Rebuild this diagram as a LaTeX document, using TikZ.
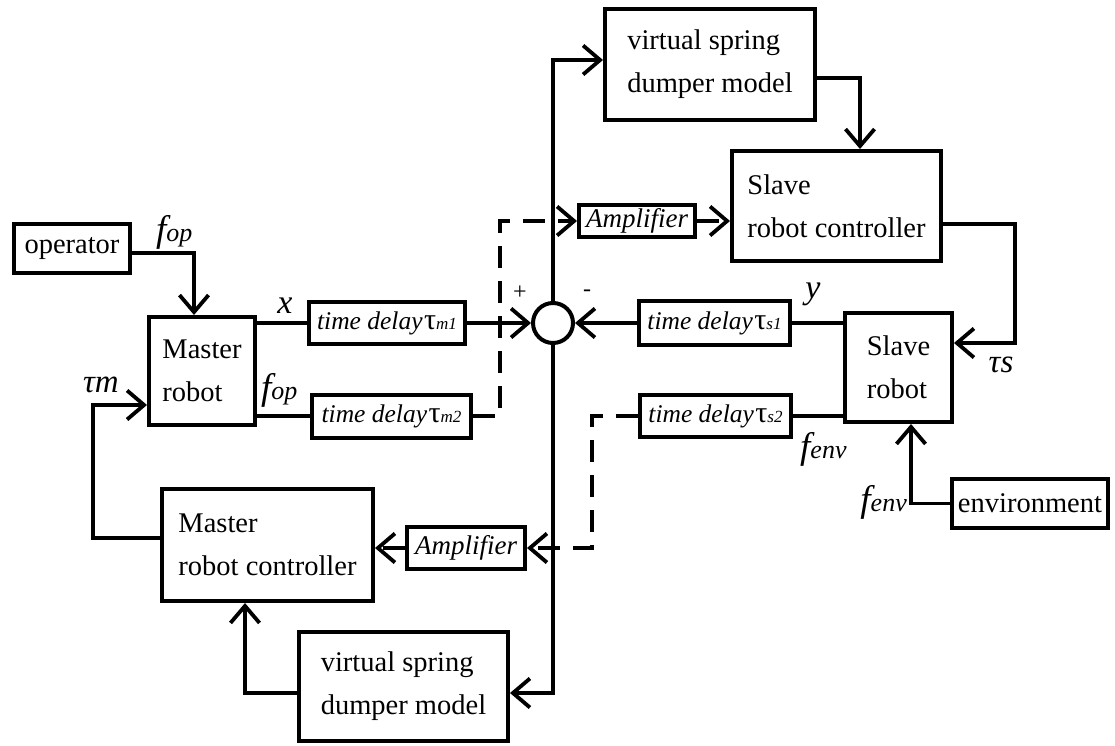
\documentclass[tikz,border=0pt]{standalone}
\usepackage{fontspec}
\setmainfont{Liberation Serif}
\usetikzlibrary{arrows.meta}
\newcommand{\blkfont}{\fontsize{28.5}{43}\selectfont}
\newcommand{\ampfont}{\fontsize{27}{27}\selectfont\itshape}
\newcommand{\sig}[2]{{\fontsize{37}{37}\selectfont\itshape #1}{\fontsize{26}{26}\selectfont\itshape #2}}
\newcommand{\tdl}[1]{{\fontsize{25.5}{26}\selectfont\itshape time delay}\hspace{1.5pt}{\fontsize{30}{30}\selectfont τ}{\fontsize{17}{17}\selectfont\itshape #1}}
\begin{document}
\begin{tikzpicture}[x=1pt,y=-1pt,
  blk/.style={draw, line width=4pt, inner sep=0pt, align=left, font=\blkfont},
  tdbox/.style={draw, line width=4pt, inner sep=0pt},
  ampbox/.style={draw, line width=4pt, inner sep=0pt, font=\ampfont},
  sumc/.style={draw, circle, line width=4pt, inner sep=0pt, minimum size=40pt},
  conn/.style={line width=3.8pt, line join=miter},
  dconn/.style={line width=3.8pt, dash pattern=on 22pt off 13pt},
  tip/.style={-{Straight Barb[length=17pt,width=29pt]}},
  lab/.style={inner sep=0pt}
]
\useasboundingbox (0,0) rectangle (1115,746);

% blocks
\node[blk, minimum width=116pt, minimum height=49pt] (op) at (72,248.5) {operator};
\node[blk, minimum width=106pt, minimum height=108pt] (master) at (202,371) {Master\\robot};
\node[tdbox, minimum width=156pt, minimum height=42pt] (tm1) at (387,323) {\tdl{m1}};
\node[tdbox, minimum width=159pt, minimum height=43pt] (tm2) at (391.5,416) {\tdl{m2}};
\node[sumc] (sum) at (553,323) {};
\node[tdbox, minimum width=151pt, minimum height=44pt] (ts1) at (714.5,323) {\tdl{s1}};
\node[tdbox, minimum width=151pt, minimum height=42pt] (ts2) at (715.5,416) {\tdl{s2}};
\node[blk, minimum width=107pt, minimum height=109pt] (srobot) at (898.5,367.5) {Slave\\robot};
\node[blk, minimum width=209pt, minimum height=110pt] (sctrl) at (836.5,206) {Slave\\robot controller};
\node[blk, minimum width=210pt, minimum height=111pt] (sprtop) at (710,64.5) {virtual spring\\dumper model};
\node[ampbox, minimum width=116pt, minimum height=32pt] (amptop) at (637,221) {Amplifier};
\node[blk, minimum width=156pt, minimum height=49pt] (env) at (1030,503.5) {environment};
\node[blk, minimum width=211pt, minimum height=112pt] (mctrl) at (267.5,545) {Master\\robot controller};
\node[ampbox, minimum width=118pt, minimum height=42pt] (ampbot) at (466,548) {Amplifier};
\node[blk, minimum width=209pt, minimum height=109pt] (sprbot) at (403.5,686.5) {virtual spring\\dumper model};

% corner coordinates
\coordinate (cA) at (500,416);
\coordinate (cB) at (592,416);
\coordinate (cC) at (1015,224);
\coordinate (cD) at (1015,343);
\coordinate (cE) at (93,538);
\coordinate (cF) at (93,405);

% connectors
\draw[conn,tip] ([yshift=-4.5pt]op.east) -| ([xshift=-8pt]master.north);
\draw[conn] (tm1.west -| master.east) -- (tm1.west);
\draw[conn,tip] (tm1.east) -- (sum.west);
\draw[conn] (tm2.west -| master.east) -- (tm2.west);
\draw[dconn,tip] (tm2.east) -- (cA) |- (amptop.west);
\draw[dconn,tip] (amptop.east) -- (amptop.east -| sctrl.west);
\draw[conn,tip] (sum.north) |- ([yshift=4.5pt]sprtop.west);
\draw[conn,tip] (sum.south) |- ([yshift=-6.5pt]sprbot.east);
\draw[conn,tip] ([yshift=-13.5pt]sprtop.east) -| ([xshift=23.5pt]sctrl.north);
\draw[conn,tip] (sctrl.east |- cC) -- (cC) -- (cD) -- (cD -| srobot.east);
\draw[conn] (ts1.east -| srobot.west) -- (ts1.east);
\draw[conn,tip] (ts1.west) -- (sum.east);
\draw[conn] (ts2.east -| srobot.west) -- (ts2.east);
\draw[dconn,tip] (ts2.west) -- (cB) |- (ampbot.east);
\draw[dconn,tip] (ampbot.west) -- (ampbot.west -| mctrl.east);
\draw[conn,tip] (env.west) -| ([xshift=12.5pt]srobot.south);
\draw[conn,tip] (mctrl.west |- cE) -- (cE) -- (cF) -- (cF -| master.west);
\draw[conn,tip] ([yshift=-6.5pt]sprbot.west) -| ([xshift=-22.5pt]mctrl.south);

% labels
\node[lab, anchor=base west] (lfop1) at (156,241) {\sig{f}{op}};
\node[lab, anchor=base] (lx) at (285,313) {\fontsize{34}{34}\selectfont\itshape x};
\node[lab, anchor=base west] (lfop2) at (261,399) {\sig{f}{op}};
\node[lab, anchor=base] (ltm) at (101,392) {\fontsize{33}{33}\selectfont\itshape τm};
\node[lab] (lplus) at (520,293) {\fontsize{24}{24}\selectfont +};
\node[lab] (lminus) at (587,293) {\fontsize{24}{24}\selectfont -};
\node[lab, anchor=base] (ly) at (813,298) {\fontsize{34}{34}\selectfont\itshape y};
\node[lab, anchor=base] (lts) at (1001,372) {\fontsize{33}{33}\selectfont\itshape τs};
\node[lab, anchor=base west] (lfenv1) at (800,458) {\sig{f}{env}};
\node[lab, anchor=base east] (lfenv2) at (907,511) {\sig{f}{env}};
\end{tikzpicture}
\end{document}
